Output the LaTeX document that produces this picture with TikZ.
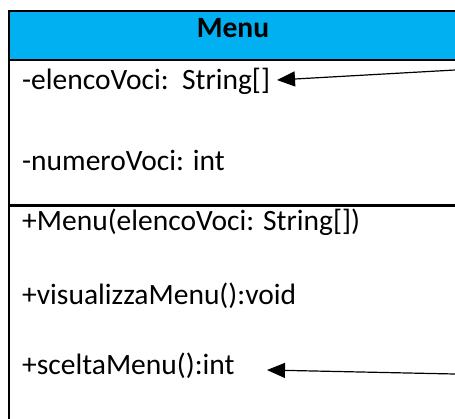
\documentclass[tikz,border=0pt]{standalone}
\usepackage{fontspec}
\setmainfont{Carlito}
\usetikzlibrary{arrows.meta}
\definecolor{headblue}{HTML}{00B0F0}
\tikzset{
  member/.style={anchor=base west, inner sep=0pt, font=\fontsize{29.5}{34}\selectfont},
  title/.style={anchor=base, inner sep=0pt, font=\fontsize{29.5}{34}\selectfont\bfseries},
  frame/.style={line width=2.6pt, line cap=rect},
  pointer/.style={line width=1.2pt, -{Triangle[length=18pt,width=15pt]}}
}
\begin{document}
\begin{tikzpicture}[x=1pt,y=-1pt]
  \useasboundingbox (0,0) rectangle (455,418);
  % class header
  \fill[headblue] (9,11) rectangle (455,60);
  \draw[frame] (455,11) -- (9,11) -- (9,418);
  \draw[frame] (9,60) -- (455,60);
  \draw[frame] (9,205.5) -- (455,205.5);
  \node[title] (name) at (233,37) {Menu};
  % attributes
  \node[member] (a1) at (22,89) {-elencoVoci:\ \ String[]};
  \node[member] (a2) at (22,170) {-numeroVoci: int};
  % operations
  \node[member] (m1) at (22,230) {+Menu(elencoVoci: String[])};
  \node[member] (m2) at (22,304) {+visualizzaMenu():void};
  \node[member] (m3) at (22,374) {+sceltaMenu():int};
  % pointers coming from the right
  \coordinate (s1) at (455,70);
  \coordinate (t1) at (277,80);
  \coordinate (s2) at (455,374);
  \coordinate (t2) at (267,370);
  \draw[pointer] (s1) -- (t1);
  \draw[pointer] (s2) -- (t2);
\end{tikzpicture}
\end{document}
